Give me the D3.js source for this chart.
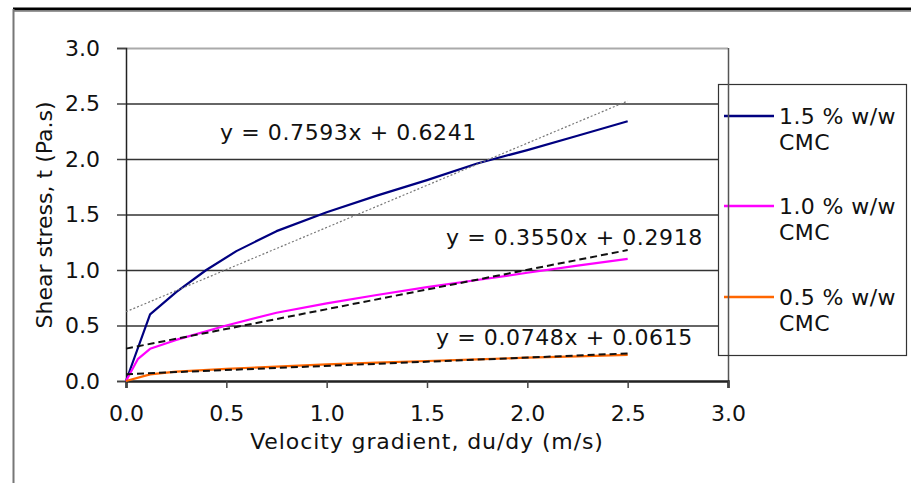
<!DOCTYPE html>
<html>
<head>
<meta charset="utf-8">
<script src="https://cdn.jsdelivr.net/npm/d3@7"></script>
<style>
  body { margin: 0; background: #fff; }
  text { font-family: "DejaVu Sans", Verdana, sans-serif; fill: #111; }
</style>
</head>
<body>
<div id="chart"></div>
<script>
// Chart data
var xTicks = [0, 0.5, 1.0, 1.5, 2.0, 2.5, 3.0];
var yTicks = [0, 0.5, 1.0, 1.5, 2.0, 2.5, 3.0];

var seriesNames = ["1.5 % w/w", "1.0 % w/w", "0.5 % w/w"];
var seriesColors = ["#000080", "#ff00ff", "#ff6600"];

var gradient15 = [0, 0.12, 0.25, 0.4, 0.55, 0.75, 1.0, 1.25, 1.5, 1.75, 2.0, 2.25, 2.5];
var stress15 = [0, 0.6, 0.8, 1.0, 1.17, 1.35, 1.52, 1.67, 1.81, 1.96, 2.08, 2.21, 2.34];

var gradient10 = [0, 0.06, 0.12, 0.25, 0.5, 0.75, 1.0, 1.25, 1.5, 1.75, 2.0, 2.25, 2.5];
var stress10 = [0, 0.2, 0.29, 0.37, 0.5, 0.615, 0.7, 0.775, 0.845, 0.91, 0.975, 1.04, 1.1];

var gradient05 = [0, 0.12, 0.25, 0.5, 0.75, 1.0, 1.25, 1.5, 1.75, 2.0, 2.25, 2.5];
var stress05 = [0, 0.06, 0.085, 0.11, 0.13, 0.15, 0.165, 0.18, 0.195, 0.21, 0.222, 0.235];

// linear trendlines: slope, intercept, label
var trendSlopes = [0.7593, 0.3550, 0.0748];
var trendIntercepts = [0.6241, 0.2918, 0.0615];
var trendLabels = ["y = 0.7593x + 0.6241", "y = 0.3550x + 0.2918", "y = 0.0748x + 0.0615"];
var trendRange = [0, 2.5];

var svgWidth = 911;
var svgHeight = 483;

var margin = { top: 48, left: 126 };
var width = 602;
var height = 333;

var svg = d3.select("#chart")
    .append("svg")
    .attr("width", svgWidth)
    .attr("height", svgHeight);

// outer frame
svg.append("line").attr("x1", 13).attr("x2", svgWidth).attr("y1", 9).attr("y2", 9)
    .attr("stroke", "#000").attr("stroke-width", 3);
svg.append("line").attr("x1", 13).attr("x2", svgWidth).attr("y1", 11.5).attr("y2", 11.5)
    .attr("stroke", "#999").attr("stroke-width", 1);
svg.append("line").attr("x1", 13.5).attr("x2", 13.5).attr("y1", 9).attr("y2", svgHeight)
    .attr("stroke", "#777").attr("stroke-width", 2);

var chartGroup = svg.append("g")
    .attr("transform", `translate(${margin.left}, ${margin.top})`);

var xScale = d3.scaleLinear().domain([0, 3]).range([0, width]);
var yScale = d3.scaleLinear().domain([0, 3]).range([height, 0]);

// gridlines
chartGroup.selectAll(".grid")
    .data(yTicks.filter(d => d > 0))
    .enter()
    .append("line")
    .attr("x1", 0)
    .attr("x2", width)
    .attr("y1", d => yScale(d) + 0.5)
    .attr("y2", d => yScale(d) + 0.5)
    .attr("stroke", d => d === 3 ? "#aaa" : "#333")
    .attr("stroke-width", d => d === 3 ? 2 : 1.5);

// right border of plot area
chartGroup.append("line")
    .attr("x1", width + 0.5).attr("x2", width + 0.5)
    .attr("y1", 0).attr("y2", height)
    .attr("stroke", "#555").attr("stroke-width", 1.5);

// axes
var bottomAxis = d3.axisBottom(xScale).tickValues(xTicks).tickFormat(d3.format(".1f")).tickSize(7).tickPadding(17);
var leftAxis = d3.axisLeft(yScale).tickValues(yTicks).tickFormat(d3.format(".1f")).tickSize(9).tickPadding(17);

var xAxisG = chartGroup.append("g")
    .attr("transform", `translate(0, ${height})`)
    .call(bottomAxis);
xAxisG.select(".domain").attr("stroke", "#222").attr("stroke-width", 2.5);
xAxisG.selectAll(".tick line").attr("stroke", "#444").attr("stroke-width", 1.5);
xAxisG.selectAll("text").style("font-size", "22px").style("font-family", "DejaVu Sans").attr("fill", "#111");

var yAxisG = chartGroup.append("g").call(leftAxis);
yAxisG.select(".domain").attr("stroke", "#222").attr("stroke-width", 1.5);
yAxisG.selectAll(".tick line").attr("stroke", "#444").attr("stroke-width", 1.5);
yAxisG.selectAll("text").style("font-size", "22px").style("font-family", "DejaVu Sans").attr("fill", "#111");

// series lines
var line = d3.line()
    .x(d => xScale(d[0]))
    .y(d => yScale(d[1]));

var seriesData = [
    d3.zip(gradient15, stress15),
    d3.zip(gradient10, stress10),
    d3.zip(gradient05, stress05)
];

// trendlines
var trendStyles = [
    { color: "#777", width: 1.2, dash: "2,2" },
    { color: "#111", width: 2, dash: "7,4" },
    { color: "#111", width: 2, dash: "7,4" }
];

seriesData.forEach(function(d, i) {
    chartGroup.append("path")
        .datum(d)
        .attr("fill", "none")
        .attr("stroke", seriesColors[i])
        .attr("stroke-width", 2.2)
        .attr("stroke-linejoin", "round")
        .attr("d", line);
});

trendSlopes.forEach(function(m, i) {
    var pts = trendRange.map(x => [x, m * x + trendIntercepts[i]]);
    chartGroup.append("path")
        .datum(pts)
        .attr("fill", "none")
        .attr("stroke", trendStyles[i].color)
        .attr("stroke-width", trendStyles[i].width)
        .attr("stroke-dasharray", trendStyles[i].dash)
        .attr("d", line);
});

// equation labels
var labelPos = [[94, 92], [320, 197], [310, 297]];
trendLabels.forEach(function(t, i) {
    chartGroup.append("text")
        .attr("x", labelPos[i][0])
        .attr("y", labelPos[i][1])
        .style("font-size", "22px")
        .style("letter-spacing", "0.6px")
        .text(t);
});

// axis titles
chartGroup.append("text")
    .attr("x", width / 2)
    .attr("y", height + 68)
    .attr("text-anchor", "middle")
    .style("font-size", "22px")
    .style("letter-spacing", "0.9px")
    .text("Velocity gradient, du/dy (m/s)");

chartGroup.append("text")
    .attr("transform", "rotate(-90)")
    .attr("x", 0 - 167)
    .attr("y", 0 - margin.left + 52)
    .attr("text-anchor", "middle")
    .style("font-size", "22px")
    .text("Shear stress, t (Pa.s)");

// legend
var legend = svg.append("g").attr("transform", "translate(718, 84)");
legend.append("rect")
    .attr("x", 0.5).attr("y", 0.5)
    .attr("width", 188).attr("height", 271)
    .attr("fill", "#fff")
    .attr("stroke", "#333")
    .attr("stroke-width", 1.2);

var legendRows = [32, 122, 213];
seriesNames.forEach(function(name, i) {
    legend.append("line")
        .attr("x1", 6).attr("x2", 56)
        .attr("y1", legendRows[i]).attr("y2", legendRows[i])
        .attr("stroke", seriesColors[i])
        .attr("stroke-width", 2.5);
    legend.append("text")
        .attr("x", 61)
        .attr("y", legendRows[i] + 8)
        .style("font-size", "22px")
        .style("letter-spacing", "0.4px")
        .text(name);
    legend.append("text")
        .attr("x", 61)
        .attr("y", legendRows[i] + 34)
        .style("font-size", "22px")
        .style("letter-spacing", "0.4px")
        .text("CMC");
});

// plot area's right edge passes over the legend
svg.append("line")
    .attr("x1", margin.left + width + 0.5).attr("x2", margin.left + width + 0.5)
    .attr("y1", 84).attr("y2", 355)
    .attr("stroke", "#555").attr("stroke-width", 1.5);
</script>
</body>
</html>
